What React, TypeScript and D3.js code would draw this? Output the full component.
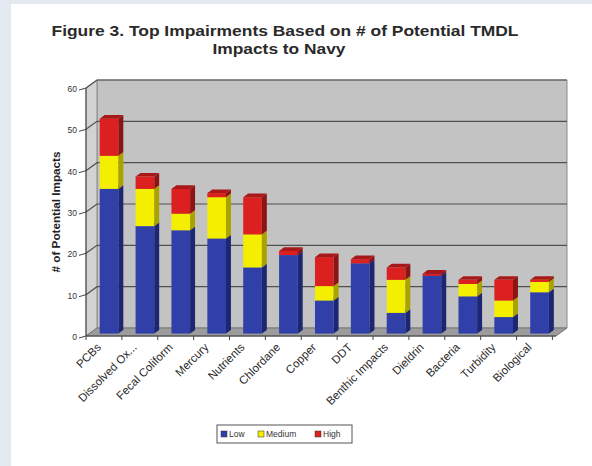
import React from "react";
import * as d3 from "d3";

const categories = [
  "PCBs",
  "Dissolved Ox...",
  "Fecal Coliform",
  "Mercury",
  "Nutrients",
  "Chlordane",
  "Copper",
  "DDT",
  "Benthic Impacts",
  "Dieldrin",
  "Bacteria",
  "Turbidity",
  "Biological",
];
const lowValues = [35, 26, 25, 23, 16, 19, 8, 17, 5, 14, 9, 4, 10];
const mediumValues = [8, 9, 4, 10, 8, 0, 3.5, 0, 8, 0, 3, 4, 2.5];
const highValues = [9, 3, 6, 1, 9, 1, 7, 1, 3, 0.5, 1, 5, 0.5];
const seriesNames = ["Low", "Medium", "High"];
const yTicks = [0, 10, 20, 30, 40, 50, 60];
const titleLines = ["Figure 3. Top Impairments Based on # of Potential TMDL", "Impacts to Navy"];

const W = 592;
const H = 466;
const X0 = 86;
const X1 = 556;
const DX = 11;
const DY = -8;
const FRONT = 0.3;
const BACK = 0.75;

const colors = [
  { front: "#3040a8", side: "#1c2672", top: "#26358e" },
  { front: "#f4ee00", side: "#a9a300", top: "#d8d000" },
  { front: "#dc2020", side: "#8c1414", top: "#a81818" },
];

export default function App() {
  const y = d3.scaleLinear().domain([0, 60]).range([336, 88]);
  const x = d3.scaleBand<string>().domain(categories).range([X0, X1]).paddingInner(0.48).paddingOuter(0.29);
  const step = x.step();
  const bw = x.bandwidth();

  const rows = categories.map((c, i) => ({
    cat: c,
    Low: lowValues[i],
    Medium: mediumValues[i],
    High: highValues[i],
  }));
  const stacked = d3.stack<any>().keys(seriesNames)(rows);

  const pts = (arr: number[][]) => arr.map((p) => p.join(",")).join(" ");

  const fx = FRONT * DX, fy = FRONT * DY;
  const sdx = (BACK - FRONT) * DX, sdy = (BACK - FRONT) * DY;

  const bars: JSX.Element[] = [];
  categories.forEach((c, ci) => {
    stacked.forEach((s, si) => {
      const [v0, v1] = s[ci];
      if (v1 - v0 <= 0) return;
      const xl = (x(c) as number) + fx;
      const xr = xl + bw;
      const yb = y(v0) + fy;
      const yt = y(v1) + fy;
      const col = colors[si];
      bars.push(
        <g key={`${ci}-${si}`}>
          <rect x={xl} y={yt} width={bw} height={yb - yt} fill={col.front} />
          <polygon points={pts([[xr, yt], [xr + sdx, yt + sdy], [xr + sdx, yb + sdy], [xr, yb]])} fill={col.side} />
          <polygon points={pts([[xl, yt], [xr, yt], [xr + sdx, yt + sdy], [xl + sdx, yt + sdy]])} fill={col.top} />
        </g>
      );
    });
  });

  const yb0 = y(0), yt60 = y(60);

  return (
    <svg width={W} height={H} style={{ position: "absolute", left: 0, top: 0 }} fontFamily="Arial, 'Liberation Sans', sans-serif">
      <rect x={0} y={0} width={W} height={H} fill="#e3e9f1" />
      <rect x={11} y={4} width={W - 11} height={H - 4} fill="#ffffff" />

      <text x={285} y={36} textAnchor="middle" fontSize={14.5} fontWeight="bold" fill="#2a2a2a" textLength={467} lengthAdjust="spacingAndGlyphs">
        {titleLines[0]}
      </text>
      <text x={279} y={54} textAnchor="middle" fontSize={14.5} fontWeight="bold" fill="#2a2a2a" textLength={133} lengthAdjust="spacingAndGlyphs">
        {titleLines[1]}
      </text>

      {/* back wall */}
      <polygon points={pts([[X0 + DX, yb0 + DY], [X1 + DX, yb0 + DY], [X1 + DX, yt60 + DY], [X0 + DX, yt60 + DY]])} fill="#c3c3c3" stroke="#8a8a8a" strokeWidth={1} />
      {/* side wall */}
      <polygon points={pts([[X0, yb0], [X0 + DX, yb0 + DY], [X0 + DX, yt60 + DY], [X0, yt60]])} fill="#d2d2d2" stroke="#8a8a8a" strokeWidth={1} />
      {/* floor */}
      <polygon points={pts([[X0, yb0], [X1, yb0], [X1 + DX, yb0 + DY], [X0 + DX, yb0 + DY]])} fill="#9c9c9c" stroke="#777" strokeWidth={1} />

      {/* gridlines */}
      {yTicks.slice(1).map((v) => (
        <g key={v}>
          <polyline points={pts([[X0, y(v)], [X0 + DX, y(v) + DY], [X1 + DX, y(v) + DY]])} fill="none" stroke="#505050" strokeWidth={1.2} />
        </g>
      ))}

      {bars}

      {/* y axis */}
      <line x1={X0} y1={yb0} x2={X0} y2={yt60} stroke="#444" strokeWidth={1} />
      {yTicks.map((v) => (
        <g key={v}>
          <line x1={X0 - 7} y1={y(v) + 2} x2={X0} y2={y(v)} stroke="#444" strokeWidth={1} />
          <text x={X0 - 9} y={y(v) + 4} textAnchor="end" fontSize={8.5} fill="#333">
            {v}
          </text>
        </g>
      ))}
      <text transform={`translate(60,${212}) rotate(-90)`} textAnchor="middle" fontSize={10} fontWeight="bold" fill="#222" textLength={121} lengthAdjust="spacingAndGlyphs">
        # of Potential Impacts
      </text>

      {/* x axis */}
      <line x1={X0} y1={yb0} x2={X1} y2={yb0} stroke="#444" strokeWidth={1} />
      {d3.range(categories.length + 1).map((i) => (
        <line key={i} x1={X0 + i * step} y1={yb0} x2={X0 + i * step} y2={yb0 + 4} stroke="#444" strokeWidth={1} />
      ))}
      {categories.map((c) => {
        const cx = (x(c) as number) + bw / 2 - 4;
        return (
          <text key={c} transform={`translate(${cx},${yb0 + 12}) rotate(-45)`} textAnchor="end" fontSize={11.5} fill="#2a2a2a">
            {c}
          </text>
        );
      })}

      {/* legend */}
      <rect x={217} y={425} width={135} height={18} fill="#fff" stroke="#555" strokeWidth={1} />
      {seriesNames.map((n, i) => {
        const lx = [221, 258, 315][i];
        return (
          <g key={n}>
            <rect x={lx} y={431} width={6} height={6} fill={colors[i].front} stroke="#333" strokeWidth={0.5} />
            <text x={lx + 8} y={437} fontSize={8.5} fill="#333">
              {n}
            </text>
          </g>
        );
      })}
    </svg>
  );
}
